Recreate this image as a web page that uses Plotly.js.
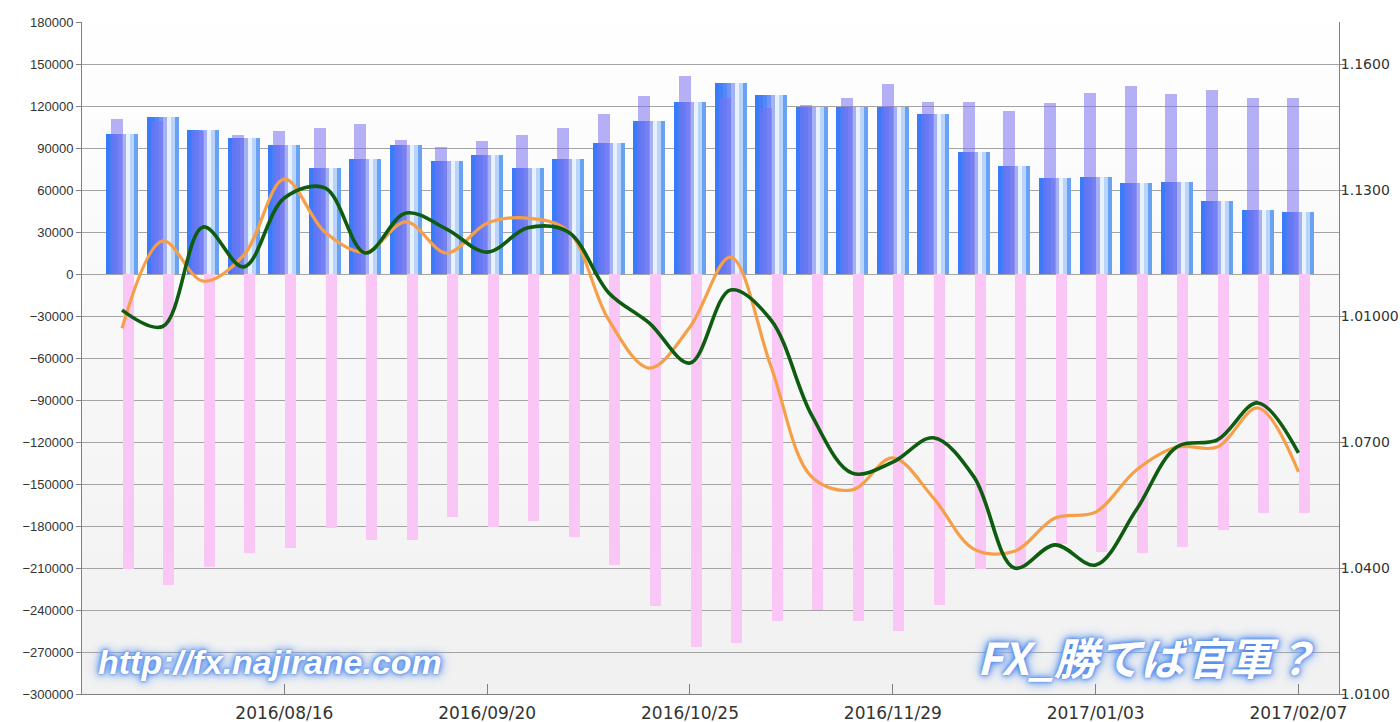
<!DOCTYPE html>
<html>
<head>
<meta charset="utf-8">
<script src="https://cdn.plot.ly/plotly-3.0.1.min.js"></script>
<style>
  html, body { margin: 0; padding: 0; background: #ffffff; }
  #chart { width: 1400px; height: 722px; }
</style>
</head>
<body>
<div id="chart"></div>
<script>
// ---- data (weekly) ----
var weeks = [
  '2016-07-19','2016-07-26','2016-08-02','2016-08-09','2016-08-16','2016-08-23','2016-08-30',
  '2016-09-06','2016-09-13','2016-09-20','2016-09-27','2016-10-04','2016-10-11','2016-10-18',
  '2016-10-25','2016-11-01','2016-11-08','2016-11-15','2016-11-22','2016-11-29','2016-12-06',
  '2016-12-13','2016-12-20','2016-12-27','2017-01-03','2017-01-10','2017-01-17','2017-01-24',
  '2017-01-31','2017-02-07'
];
var blueBars = [
  100000, 112000, 103000, 97000, 92000, 75500, 82000, 92000, 80500, 85000,
  75500, 82000, 93500, 109000, 123000, 136500, 128000, 119000, 119000, 119000,
  114000, 87000, 77500, 68500, 69500, 65000, 66000, 52000, 45500, 44500
];
var lavenderBars = [
  110500, 109000, 102000, 99500, 102500, 104500, 107500, 96000, 91000, 95000,
  99500, 104500, 114000, 127500, 141500, 126000, 118500, 121000, 126000, 135500,
  123000, 123000, 116500, 122500, 129500, 134500, 128500, 131500, 125500, 126000
];
var pinkBars = [
  -210500, -222000, -209000, -199000, -195500, -181500, -190000, -190000, -173500, -181000,
  -176500, -188000, -208000, -237000, -266500, -263500, -248000, -240000, -247500, -255000,
  -236500, -210500, -210000, -192500, -198500, -199500, -195000, -183000, -171000, -171000
];
var greenLine = [
  1.1014, 1.0975, 1.1212, 1.1117, 1.1281, 1.1305, 1.1150, 1.1245, 1.1207, 1.1152,
  1.1210, 1.1200, 1.1055, 1.0983, 1.0888, 1.1062, 1.0990, 1.0764, 1.0626, 1.0652,
  1.0710, 1.0617, 1.0400, 1.0455, 1.0407, 1.0538, 1.0688, 1.0705, 1.0793, 1.0674
];
var orangeLine = [
  1.0971, 1.1179, 1.1083, 1.1145, 1.1326, 1.1200, 1.1152, 1.1224, 1.1150, 1.1221,
  1.1233, 1.1202, 1.0990, 1.0876, 1.0974, 1.1140, 1.0879, 1.0617, 1.0586, 1.0662,
  1.0567, 1.0445, 1.0440, 1.0519, 1.0533, 1.0633, 1.0688, 1.0688, 1.0781, 1.0629
];
var xTickDates = ['2016-08-16','2016-09-20','2016-10-25','2016-11-29','2017-01-03','2017-02-07'];
var xTickLabels = ['2016/08/16','2016/09/20','2016/10/25','2016/11/29','2017/01/03','2017/02/07'];
var rightTickVals = [1.01, 1.04, 1.07, 1.10, 1.13, 1.16];
var rightTickLabels = ['1.0100','1.0400','1.0700','1.01000','1.1300','1.1600'];
var watermarkLeft = 'http://fx.najirane.com';
var watermarkRight = 'FX_勝てば官軍？';

// ---- styling ----
var DAY = 86400000;
var PXDAY = 40.56 / 7;            // pixels per day on x
function d(px) { return px / PXDAY * DAY; }

var traces = [];
// gradient blue bars: overlapping strips, each from its start to the right edge
var blueStops = ['#3b7bfa','#4280f8','#5388f6','#7294f3','#a4b2f3','#e9f1fd','#b9d4fa','#6aa2f3'];
var barHalf = 16, stripW = 4;
for (var k = 0; k < blueStops.length; k++) {
  var startPx = -barHalf + k * stripW;
  traces.push({
    type: 'bar', x: weeks, y: blueBars, yaxis: 'y',
    offset: d(startPx), width: d(2 * barHalf - k * stripW),
    marker: { color: blueStops[k], line: { width: 0 } },
    hoverinfo: 'skip', showlegend: false
  });
}
traces.push({
  type: 'bar', x: weeks, y: lavenderBars, yaxis: 'y', name: 'lavender',
  offset: d(-11.3), width: d(12),
  marker: { color: 'rgba(122,112,240,0.55)', line: { width: 0 } },
  showlegend: false
});
traces.push({
  type: 'bar', x: weeks, y: pinkBars, yaxis: 'y', name: 'pink',
  offset: d(0.6), width: d(11),
  marker: { color: 'rgb(250,198,246)', line: { width: 0 } },
  showlegend: false
});
traces.push({
  type: 'scatter', mode: 'lines', x: weeks, y: orangeLine, yaxis: 'y2',
  line: { color: '#f5a048', width: 3.2, shape: 'spline', smoothing: 1 },
  showlegend: false
});
traces.push({
  type: 'scatter', mode: 'lines', x: weeks, y: greenLine, yaxis: 'y2',
  line: { color: '#0d5c10', width: 3.6, shape: 'spline', smoothing: 1 },
  showlegend: false
});

// background gradient bands
var shapes = [];
var nb = 14;
for (var b = 0; b < nb; b++) {
  var c = Math.round(255 - (b + 0.5) / nb * 15);
  shapes.push({
    type: 'rect', xref: 'x domain', yref: 'y domain', layer: 'below',
    x0: 0, x1: 1, y0: 1 - (b + 1) / nb, y1: 1 - b / nb,
    fillcolor: 'rgb(' + c + ',' + c + ',' + c + ')', line: { width: 0 }
  });
}

var glow = '0 0 3px #4a84ea, 0 0 6px #4a84ea, 0 0 10px #7ba9f2, 0 0 14px #9cbff5';
var layout = {
  width: 1400, height: 722,
  margin: { l: 82, r: 61, t: 22, b: 28 },
  paper_bgcolor: '#ffffff', plot_bgcolor: '#ffffff',
  barmode: 'overlay', bargap: 0,
  showlegend: false,
  font: { family: 'Liberation Sans, Arial, sans-serif', size: 13, color: '#333333' },
  xaxis: {
    type: 'date', range: ['2016-07-12 02:00', '2017-02-14 00:00'],
    tickvals: xTickDates, ticktext: xTickLabels,
    ticks: 'inside', ticklen: 10, tickcolor: '#808080', tickwidth: 1,
    showline: true, linecolor: '#808080', linewidth: 1, mirror: false,
    showgrid: false, zeroline: false, ticklabelstandoff: 4,
    tickfont: { family: 'DejaVu Sans, sans-serif', size: 17, color: '#333333' }
  },
  yaxis: {
    range: [-300000, 180000], tick0: 0, dtick: 30000, tickformat: 'd',
    showgrid: true, gridcolor: '#a4a4a4', gridwidth: 1,
    zeroline: false,
    showline: true, linecolor: '#808080', linewidth: 1,
    ticks: 'outside', ticklen: 5, tickcolor: '#808080',
    tickfont: { size: 13, color: '#333333' }
  },
  yaxis2: {
    overlaying: 'y', side: 'right', range: [1.01, 1.17],
    tickvals: rightTickVals, ticktext: rightTickLabels,
    showgrid: false, zeroline: false,
    showline: true, linecolor: '#808080', linewidth: 1,
    ticks: 'outside', ticklen: 6, tickcolor: '#808080', ticklabelstandoff: -8,
    tickfont: { family: 'DejaVu Sans, sans-serif', size: 14, color: '#333333' }
  },
  shapes: shapes,
  annotations: [
    {
      xref: 'paper', yref: 'paper', x: 0.1496, y: 0.0476, xanchor: 'center', yanchor: 'middle',
      text: watermarkLeft, showarrow: false,
      font: { family: 'Liberation Sans Narrow, Liberation Sans, sans-serif', size: 34,
              color: '#ffffff', weight: 'bold', style: 'italic', shadow: glow }
    },
    {
      xref: 'paper', yref: 'paper', x: 0.847, y: 0.0565, xanchor: 'center', yanchor: 'middle',
      text: watermarkRight, showarrow: false,
      font: { family: 'Noto Sans CJK JP, sans-serif', size: 44,
              color: '#ffffff', weight: 'bold', style: 'italic', shadow: glow }
    }
  ]
};

Plotly.newPlot('chart', traces, layout, { staticPlot: true, displayModeBar: false });
</script>
</body>
</html>
